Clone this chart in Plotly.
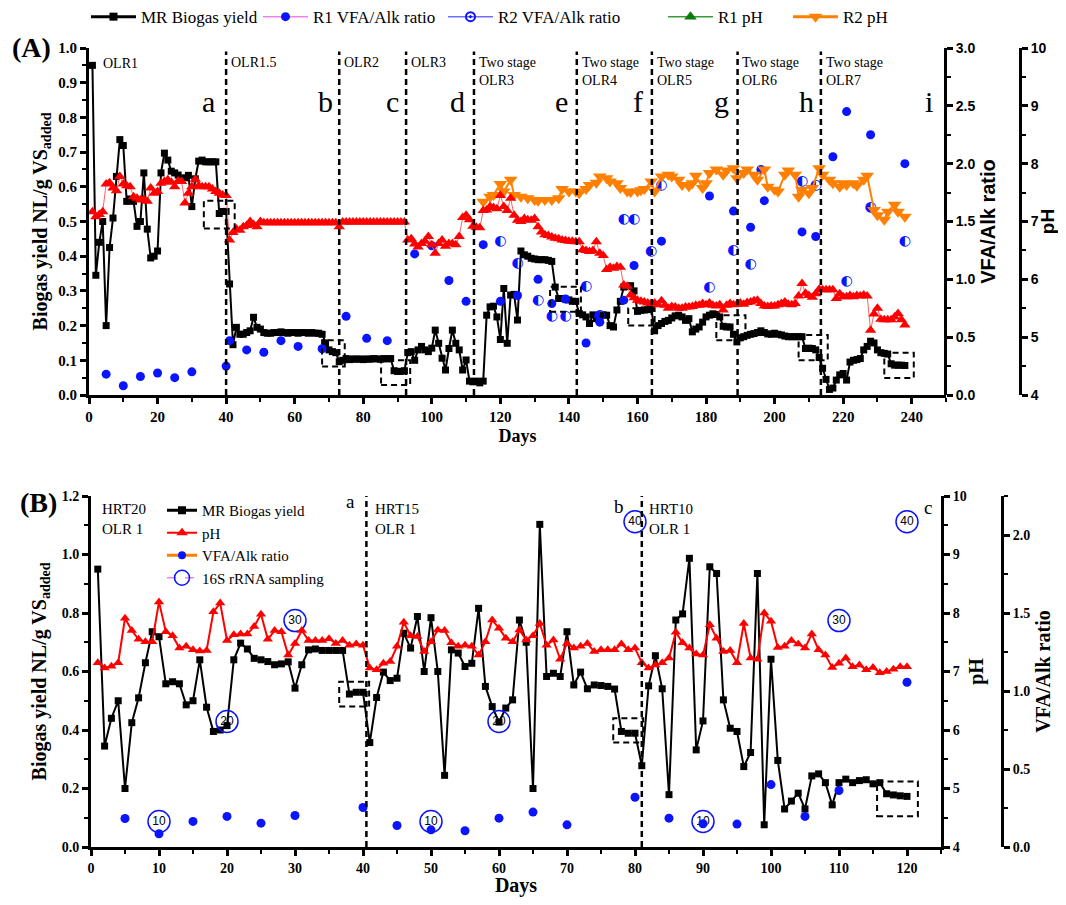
import plotly.graph_objects as go

# ---------------- Panel A data ----------------
a_biogas = [0.95,0.345,0.44,0.50,0.20,0.425,0.51,0.63,0.736,0.719,
            0.558,0.565,0.558,0.486,0.50,0.64,0.478,0.395,0.40,0.415,
            0.64,0.697,0.677,0.645,0.64,0.634,0.623,0.626,0.633,0.543,
            0.623,0.674,0.677,0.672,0.672,0.672,0.672,0.523,0.529,0.529,
            0.32,0.145,0.195,0.175,0.175,0.18,0.185,0.224,0.195,0.19,
            0.18,0.178,0.178,0.18,0.18,0.182,0.18,0.178,0.18,0.18,
            0.178,0.18,0.18,0.178,0.18,0.178,0.178,0.175,0.15,0.13,
            0.125,0.122,0.096,0.10,0.105,0.102,0.104,0.103,0.104,0.102,
            0.104,0.103,0.105,0.104,0.103,0.105,0.104,0.105,0.07,0.068,
            0.068,0.07,0.122,0.125,0.10,0.13,0.14,0.13,0.125,0.135,
            0.187,0.149,0.106,0.072,0.134,0.187,0.149,0.13,0.072,0.101,
            0.04,0.038,0.04,0.035,0.04,0.23,0.254,0.256,0.225,0.16,
            0.307,0.149,0.288,0.29,0.216,0.415,0.404,0.40,0.394,0.392,
            0.39,0.39,0.39,0.388,0.385,0.311,0.278,0.278,0.276,0.274,
            0.27,0.27,0.235,0.231,0.225,0.206,0.231,0.22,0.225,0.231,
            0.23,0.20,0.196,0.245,0.27,0.311,0.313,0.315,0.30,0.241,
            0.244,0.245,0.246,0.25,0.185,0.20,0.206,0.212,0.215,0.222,
            0.228,0.23,0.225,0.215,0.22,0.182,0.19,0.196,0.21,0.225,
            0.23,0.234,0.232,0.225,0.198,0.196,0.196,0.175,0.153,0.165,
            0.168,0.172,0.175,0.177,0.18,0.185,0.18,0.176,0.175,0.178,
            0.175,0.173,0.17,0.168,0.168,0.168,0.168,0.168,0.134,0.135,
            0.134,0.13,0.108,0.077,0.045,0.016,0.02,0.043,0.058,0.062,
            0.043,0.095,0.10,0.102,0.105,0.13,0.14,0.155,0.15,0.13,
            0.122,0.12,0.118,0.09,0.086,0.086,0.086,0.085]
a_days = list(range(1, len(a_biogas) + 1))

a_r1_ph = [7.17,7.08,7.12,7.17,7.65,7.67,7.58,7.53,7.78,7.65,
           7.62,7.60,7.43,7.40,7.37,7.38,7.35,7.58,7.49,7.52,
           7.66,7.69,7.72,7.68,7.60,7.70,7.69,7.32,7.49,7.60,
           7.73,7.62,7.60,7.60,7.60,7.56,7.52,7.49,7.46,7.45,
           6.68,6.81,6.87,6.85,6.91,6.93,7.00,6.95,6.91,7.00,
           6.98,6.98,6.98,6.98,6.98,6.98,6.98,6.98,6.98,6.98,
           6.98,6.98,6.98,6.98,6.98,6.98,6.98,6.98,6.98,6.98,
           6.98,6.98,6.91,6.99,6.99,6.99,6.99,6.99,6.99,6.99,
           6.99,6.99,6.99,6.99,6.99,6.99,6.99,6.99,6.99,6.99,
           6.99,6.99,6.68,6.70,6.61,6.56,6.62,6.66,6.74,6.60,
           6.45,6.62,6.68,6.57,6.62,6.62,6.60,6.74,7.07,7.11,
           7.03,6.92,6.90,6.89,7.19,7.20,7.26,7.24,7.22,7.45,
           7.26,7.19,7.40,7.11,7.02,7.00,7.05,7.03,7.02,7.05,
           6.91,6.82,6.77,6.76,6.73,6.71,6.70,6.68,6.67,6.66,
           6.66,6.65,6.65,6.51,6.50,6.48,6.50,6.65,6.45,6.41,
           6.17,6.21,6.19,6.22,6.21,5.90,5.88,5.73,5.68,5.64,
           5.62,5.61,5.59,5.58,5.59,5.56,5.63,5.55,5.50,5.53,
           5.52,5.50,5.50,5.52,5.52,5.53,5.55,5.55,5.58,5.56,
           5.59,5.55,5.54,5.56,5.47,5.55,5.58,5.56,5.57,5.59,
           5.57,5.60,5.61,5.63,5.64,5.58,5.54,5.53,5.54,5.54,
           5.56,5.58,5.61,5.57,5.56,5.58,5.71,5.93,5.76,5.72,
           5.69,5.75,5.83,5.82,5.82,5.82,5.82,5.67,5.75,5.70,
           5.70,5.72,5.70,5.72,5.71,5.73,5.71,5.12,5.40,5.50,
           5.31,5.30,5.30,5.30,5.35,5.41,5.30,5.21]
a_r1_ph_days = list(range(1, len(a_r1_ph) + 1))

a_r2_ph_days = [115,117,118,120,121,123,124,126,128,130,131,133,135,137,138,140,142,143,145,146,
                148,149,151,152,154,155,157,158,160,161,162,164,165,167,169,170,172,173,175,176,
                177,179,180,181,183,185,186,188,189,191,192,194,195,197,198,200,201,203,204,206,
                207,208,210,211,213,214,216,217,219,220,221,223,224,226,227,229,230,232,233,235,
                236,238]
a_r2_ph = [7.34,7.43,7.46,7.65,7.52,7.72,7.46,7.43,7.40,7.37,7.36,7.37,7.37,7.40,7.56,7.52,7.52,7.49,7.56,7.63,
           7.67,7.78,7.75,7.69,7.66,7.58,7.52,7.51,7.52,7.54,7.56,7.69,7.52,7.78,7.81,7.78,7.72,7.63,7.61,7.66,
           7.79,7.58,7.66,7.84,7.90,7.81,7.88,7.92,7.75,7.84,7.90,7.81,7.72,7.90,7.60,7.55,7.52,7.81,7.88,7.81,
           7.43,7.55,7.49,7.58,7.92,7.81,7.72,7.66,7.60,7.66,7.63,7.66,7.62,7.72,7.79,7.20,7.11,7.03,7.17,7.29,
           7.17,7.08]

a_r1_vfa_days = [5,10,15,20,25,30,40,41,46,51,56,61,68,75,81,87,95,100,105,110,115,120,125,131,135,139,
                 145,149,156,159,167,181,188,193,196,197,208,212,217,221,228,238]
a_r1_vfa = [0.18,0.08,0.16,0.19,0.15,0.20,0.25,0.47,0.39,0.37,0.47,0.42,0.40,0.68,0.49,0.47,1.22,1.29,0.99,0.81,
            1.30,0.81,0.86,1.00,0.79,0.83,0.45,0.63,0.82,1.12,1.33,1.72,1.59,1.45,1.95,1.68,1.41,1.37,2.06,2.45,
            2.25,2.00]

a_r2_vfa_days = [120,125,131,135,139,145,149,156,159,164,167,181,188,193,208,212,221,228,238]
a_r2_vfa = [1.33,1.14,0.82,0.68,0.68,0.94,0.69,1.52,1.52,1.24,1.81,0.93,1.25,1.13,1.85,1.81,0.98,1.62,1.33]

a_stage_days = [40, 73, 92.5, 112.3, 142.3, 164.2, 189.2, 213.5]
a_stage_text = ["OLR1.5", "OLR2", "OLR3", "Two stage<br>OLR3", "Two stage<br>OLR4",
                "Two stage<br>OLR5", "Two stage<br>OLR6", "Two stage<br>OLR7"]
a_letters = ["a", "b", "c", "d", "e", "f", "g", "h", "i"]
a_letter_days = [34.8, 69, 88.6, 107.5, 137.8, 160.2, 184.4, 209.2, 244.9]
a_boxes = [(33.5, 42.5, 0.48, 0.56), (68, 74.6, 0.082, 0.158), (85.2, 93.7, 0.029, 0.10),
           (134.5, 143.5, 0.24, 0.312), (157.3, 165, 0.2, 0.25), (183, 191.5, 0.158, 0.23),
           (207, 215.5, 0.10, 0.173), (232, 240.6, 0.049, 0.122)]

# ---------------- Panel B data ----------------
b_biogas = a_biogas[:40] + [
    0.357,0.511,0.598,0.569,0.577,0.731,0.68,0.788,0.60,0.784,
    0.60,0.245,0.674,0.663,0.617,0.628,0.816,0.549,0.48,0.427,
    0.475,0.503,0.776,0.70,0.20,1.103,0.583,0.594,0.583,0.736,
    0.554,0.598,0.541,0.554,0.552,0.549,0.54,0.395,0.389,0.389,
    0.278,0.551,0.654,0.541,0.179,0.776,0.797,0.987,0.332,0.431,
    0.958,0.935,0.503,0.406,0.395,0.275,0.323,0.935,0.076,0.642,
    0.296,0.13,0.157,0.184,0.13,0.243,0.25,0.22,0.144,0.22,
    0.232,0.22,0.227,0.23,0.216,0.22,0.182,0.178,0.175,0.173]
b_days = list(range(1, len(b_biogas) + 1))

b_ph = [7.15,7.06,7.09,7.15,7.91,7.70,7.55,7.51,7.51,8.19,
        7.68,7.61,7.40,7.43,7.37,7.35,7.36,8.02,8.17,7.53,
        7.63,7.64,7.64,7.77,7.98,7.55,7.70,7.68,7.28,7.48,
        7.70,7.53,7.53,7.53,7.56,7.48,7.53,7.45,7.47,7.45,
        7.06,7.03,7.14,7.17,7.43,7.84,7.61,7.60,7.34,7.51,
        7.71,7.70,7.49,7.43,7.45,7.43,7.28,7.51,7.88,7.74,
        7.57,7.51,7.71,7.54,7.61,7.82,7.45,7.54,7.21,7.48,
        7.40,7.43,7.48,7.34,7.37,7.37,7.37,7.47,7.37,7.40,
        7.15,7.06,7.11,7.15,7.23,7.67,7.49,7.40,7.30,7.28,
        7.80,7.57,7.34,7.36,7.15,7.82,7.23,7.21,8.00,7.86,
        7.41,7.43,7.53,7.47,7.40,7.64,7.37,7.28,7.07,7.14,
        7.23,7.08,7.11,7.03,7.07,6.98,7.00,7.04,7.08,7.08]
b_ph_days = list(range(1, len(b_ph) + 1))

b_vfa_days = [5,10,15,20,25,30,40,45,50,55,60,65,70,80,85,90,95,100,105,110,120]
b_vfa = [0.183,0.085,0.164,0.196,0.153,0.202,0.253,0.138,0.11,0.104,0.185,0.224,0.142,
         0.319,0.185,0.149,0.147,0.40,0.196,0.362,1.056]

b_rna_days = [10, 20, 30, 50, 60, 80, 90, 110, 120]
b_rna_y = [0.087, 0.429, 0.774, 0.087, 0.429, 1.112, 0.087, 0.774, 1.112]
b_rna_labels = ["10", "20", "30", "10", "20", "40", "10", "30", "40"]

b_stage_days = [40.5, 81]
b_boxes = [(36.5, 40.9, 0.48, 0.565), (76.8, 81.2, 0.357, 0.44), (115.6, 121.6, 0.105, 0.224)]

# ---------------- styling ----------------
SERIF = "Liberation Serif"
SANS = "Liberation Sans"
BLUE = "#0a14ff"
RED = "#ff0000"
ORANGE = "#ff8000"
OFF = 8                    # page body margin
FW, FH = 1050, 889         # figure size inside the 1066x905 window

def px_x(p):
    return (p - OFF) / FW

def px_y(p):
    return 1 - (p - OFF) / FH

fig = go.Figure()

# Panel A traces
fig.add_trace(go.Scatter(x=a_r2_ph_days, y=a_r2_ph, xaxis="x", yaxis="y3", mode="lines+markers",
                         line=dict(color=ORANGE, width=2),
                         marker=dict(symbol="triangle-down", size=12, color=ORANGE), showlegend=False))
fig.add_trace(go.Scatter(x=a_r1_ph_days, y=a_r1_ph, xaxis="x", yaxis="y3", mode="lines+markers",
                         line=dict(color="#ff6060", width=1),
                         marker=dict(symbol="triangle-up", size=10, color=RED), showlegend=False))
fig.add_trace(go.Scatter(x=a_days, y=a_biogas, xaxis="x", yaxis="y", mode="lines+markers",
                         line=dict(color="black", width=2),
                         marker=dict(symbol="square", size=7, color="black"), showlegend=False))
fig.add_trace(go.Scatter(x=a_r1_vfa_days, y=a_r1_vfa, xaxis="x", yaxis="y2", mode="markers",
                         marker=dict(symbol="circle", size=9, color=BLUE), showlegend=False))
fig.add_trace(go.Scatter(x=a_r2_vfa_days, y=a_r2_vfa, xaxis="x", yaxis="y2", mode="text",
                         text=["\u25D0"] * len(a_r2_vfa), textposition="middle center",
                         textfont=dict(family="DejaVu Sans", size=14, color=BLUE), showlegend=False))

# Panel A legend entries, each in its own legend box so they sit where the reference puts them
leg_a = [
    ("MR Biogas yield", dict(color="black", width=3), dict(symbol="square", size=8, color="black"), "legend", 141),
    ("R1 VFA/Alk ratio", dict(color="violet", width=1.5), dict(symbol="circle", size=9, color=BLUE), "legend3", 313),
    ("R2 VFA/Alk ratio", dict(color="#6f6fff", width=1.5),
     dict(symbol="circle-open-dot", size=9, color=BLUE, line=dict(width=2, color=BLUE)), "legend4", 498),
    ("R1 pH", dict(color="#3a9a3a", width=1.5), dict(symbol="triangle-up", size=11, color="#0a7a0a"), "legend5", 718),
    ("R2 pH", dict(color=ORANGE, width=3), dict(symbol="triangle-down", size=12, color=ORANGE), "legend6", 843),
]
for name, ln, mk, lg, _ in leg_a:
    fig.add_trace(go.Scatter(x=[None], y=[None], xaxis="x", yaxis="y", mode="lines+markers",
                             name=name, line=ln, marker=mk, legend=lg))

# Panel B traces
fig.add_trace(go.Scatter(x=b_ph_days, y=b_ph, xaxis="x2", yaxis="y5", mode="lines+markers",
                         line=dict(color=RED, width=2),
                         marker=dict(symbol="triangle-up", size=9, color=RED), showlegend=False))
fig.add_trace(go.Scatter(x=b_days, y=b_biogas, xaxis="x2", yaxis="y4", mode="lines+markers",
                         line=dict(color="black", width=2),
                         marker=dict(symbol="square", size=7, color="black"), showlegend=False))
fig.add_trace(go.Scatter(x=b_vfa_days, y=b_vfa, xaxis="x2", yaxis="y6", mode="markers",
                         marker=dict(symbol="circle", size=9, color=BLUE), showlegend=False))
fig.add_trace(go.Scatter(x=b_rna_days, y=b_rna_y, xaxis="x2", yaxis="y4", mode="markers+text",
                         text=b_rna_labels, textposition="middle center",
                         textfont=dict(family=SANS, size=12, color="black"),
                         marker=dict(symbol="circle-open", size=22, color=BLUE, line=dict(width=1.5, color=BLUE)),
                         showlegend=False))

leg_b = [
    ("MR Biogas yield", dict(color="black", width=3), dict(symbol="square", size=8, color="black")),
    ("pH", dict(color=RED, width=2), dict(symbol="triangle-up", size=10, color=RED)),
    ("VFA/Alk ratio", dict(color=ORANGE, width=3), dict(symbol="circle", size=8, color=BLUE)),
    ("16S rRNA sampling", dict(color="violet", width=1.5, dash="dash"),
     dict(symbol="circle-open", size=15, color=BLUE, line=dict(width=1.5, color=BLUE))),
]
for name, ln, mk in leg_b:
    fig.add_trace(go.Scatter(x=[None], y=[None], xaxis="x2", yaxis="y4", mode="lines+markers",
                             name=name, line=ln, marker=mk, legend="legend2"))

# ---------------- axes ----------------
def axis_common(font_family, size=15):
    return dict(showline=True, linecolor="black", linewidth=3, ticks="outside", ticklen=6,
                tickwidth=2.5, tickcolor="black", showgrid=False, zeroline=False, automargin=False,
                tickfont=dict(family=font_family, size=size, color="black", weight="bold"))

MINOR = dict(ticks="outside", ticklen=4, tickwidth=2, tickcolor="black")

xa = axis_common(SERIF, 15)
xa.update(domain=[px_x(89), px_x(946)], range=[0, 250], anchor="y", tick0=0, dtick=20,
          minor=dict(MINOR, dtick=10),
          title=dict(text="Days", font=dict(family=SERIF, size=18, color="black", weight="bold"), standoff=6))
ya = axis_common(SERIF, 15)
ya.update(domain=[px_y(395), px_y(48)], range=[0, 1.0], anchor="x", dtick=0.1, tickformat=".1f",
          minor=dict(MINOR, dtick=0.05),
          title=dict(text="Biogas yield NL/g VS<sub>added</sub>",
                     font=dict(family=SERIF, size=20, color="black", weight="bold"), standoff=6))
ya2 = axis_common(SANS, 14)
ya2.update(overlaying="y", anchor="free", position=px_x(945), side="right", range=[0, 3.0], dtick=0.5,
           tickformat=".1f", minor=dict(MINOR, dtick=0.25),
           title=dict(text="VFA/Alk ratio", font=dict(family=SANS, size=20, color="black", weight="bold"),
                      standoff=6))
ya3 = axis_common(SANS, 14)
ya3.update(overlaying="y", anchor="free", position=px_x(1020), side="right", range=[4, 10], dtick=1,
           minor=dict(MINOR, dtick=0.5),
           title=dict(text="pH", font=dict(family=SANS, size=19, color="black", weight="bold"), standoff=0))

xb = axis_common(SERIF, 14)
xb.update(domain=[px_x(91), px_x(941)], range=[0, 125], anchor="y4", tick0=0, dtick=10,
          minor=dict(MINOR, dtick=5),
          title=dict(text="Days", font=dict(family=SERIF, size=20, color="black", weight="bold"), standoff=10))
yb = axis_common(SERIF, 14)
yb.update(domain=[px_y(847), px_y(496)], range=[0, 1.2], anchor="x2", dtick=0.2, tickformat=".1f",
          minor=dict(MINOR, dtick=0.1),
          title=dict(text="Biogas yield NL/g VS<sub>added</sub>",
                     font=dict(family=SERIF, size=20, color="black", weight="bold"), standoff=10))
yb5 = axis_common(SERIF, 14)
yb5.update(overlaying="y4", anchor="x2", side="right", range=[4, 10], dtick=1,
           minor=dict(MINOR, dtick=0.5),
           title=dict(text="pH", font=dict(family=SERIF, size=20, color="black", weight="bold"), standoff=4))
yb6 = axis_common(SERIF, 14)
yb6.update(overlaying="y4", anchor="free", position=px_x(1002), side="right", range=[0, 2.25], dtick=0.5,
           tickformat=".1f", minor=dict(MINOR, dtick=0.25),
           title=dict(text="VFA/Alk ratio", font=dict(family=SERIF, size=20, color="black", weight="bold"),
                      standoff=6))

# ---------------- shapes & annotations ----------------
DASH = "6px,4px"
shapes = []
for d in a_stage_days:
    shapes.append(dict(type="line", xref="x", yref="y", x0=d, x1=d, y0=0, y1=0.99,
                       line=dict(color="black", width=2.5, dash=DASH)))
for x0, x1, y0, y1 in a_boxes:
    shapes.append(dict(type="rect", xref="x", yref="y", x0=x0, x1=x1, y0=y0, y1=y1,
                       line=dict(color="black", width=2, dash=DASH)))
for d in b_stage_days:
    shapes.append(dict(type="line", xref="x2", yref="y4", x0=d, x1=d, y0=0, y1=1.2,
                       line=dict(color="black", width=2.5, dash=DASH)))
for x0, x1, y0, y1 in b_boxes:
    shapes.append(dict(type="rect", xref="x2", yref="y4", x0=x0, x1=x1, y0=y0, y1=y1,
                       line=dict(color="black", width=2, dash=DASH)))

ann = []
ann.append(dict(text="(A)", xref="paper", yref="paper", x=px_x(10), y=px_y(47), xanchor="left",
                yanchor="middle", showarrow=False,
                font=dict(family=SERIF, size=28, color="black", weight="bold")))
ann.append(dict(text="(B)", xref="paper", yref="paper", x=px_x(18), y=px_y(502), xanchor="left",
                yanchor="middle", showarrow=False,
                font=dict(family=SERIF, size=28, color="black", weight="bold")))
ann.append(dict(text="OLR1", xref="x", yref="y", x=3.5, y=0.955, xanchor="left", yanchor="middle",
                showarrow=False, font=dict(family=SERIF, size=14, color="black")))
for d, t in zip(a_stage_days, a_stage_text):
    ann.append(dict(text=t, xref="x", yref="y", x=d + 0.8, y=0.985, xanchor="left", yanchor="top",
                    showarrow=False, align="left", font=dict(family=SERIF, size=14, color="black")))
for d, t in zip(a_letter_days, a_letters):
    ann.append(dict(text=t, xref="x", yref="y", x=d, y=0.845, xanchor="center", yanchor="middle",
                    showarrow=False, font=dict(family=SERIF, size=30, color="black")))

b_texts = [("HRT20<br>OLR 1", 1.3, "left", 15, 1.19, "top"), ("a", 38.1, "center", 19, 1.18, "middle"),
           ("HRT15<br>OLR 1", 41.5, "left", 15, 1.19, "top"), ("b", 77.6, "center", 19, 1.165, "middle"),
           ("HRT10<br>OLR 1", 81.7, "left", 15, 1.19, "top"), ("c", 123.1, "center", 19, 1.16, "middle")]
for t, d, anc, sz, yy, va in b_texts:
    ann.append(dict(text=t, xref="x2", yref="y4", x=d, y=yy, xanchor=anc, yanchor=va,
                    showarrow=False, align="left", font=dict(family=SERIF, size=sz, color="black")))

legends = {}
for name, ln, mk, lg, text_x in leg_a:
    legends[lg] = dict(orientation="h", x=px_x(text_x - 55), y=1.01, xanchor="left", yanchor="top",
                       font=dict(family=SERIF, size=17, color="black"), bgcolor="rgba(0,0,0,0)",
                       itemwidth=45, tracegroupgap=0)
legends["legend2"] = dict(orientation="v", x=px_x(162), y=px_y(494), xanchor="left", yanchor="top",
                          font=dict(family=SERIF, size=15, color="black"), bgcolor="rgba(0,0,0,0)",
                          itemwidth=30, tracegroupgap=0)

fig.update_layout(
    width=FW, height=FH, margin=dict(l=0, r=0, t=0, b=0, pad=0, autoexpand=False),
    plot_bgcolor="white", paper_bgcolor="white",
    xaxis=xa, yaxis=ya, yaxis2=ya2, yaxis3=ya3,
    xaxis2=xb, yaxis4=yb, yaxis5=yb5, yaxis6=yb6,
    shapes=shapes, annotations=ann,
    **legends,
)

fig.write_html("out.html")
